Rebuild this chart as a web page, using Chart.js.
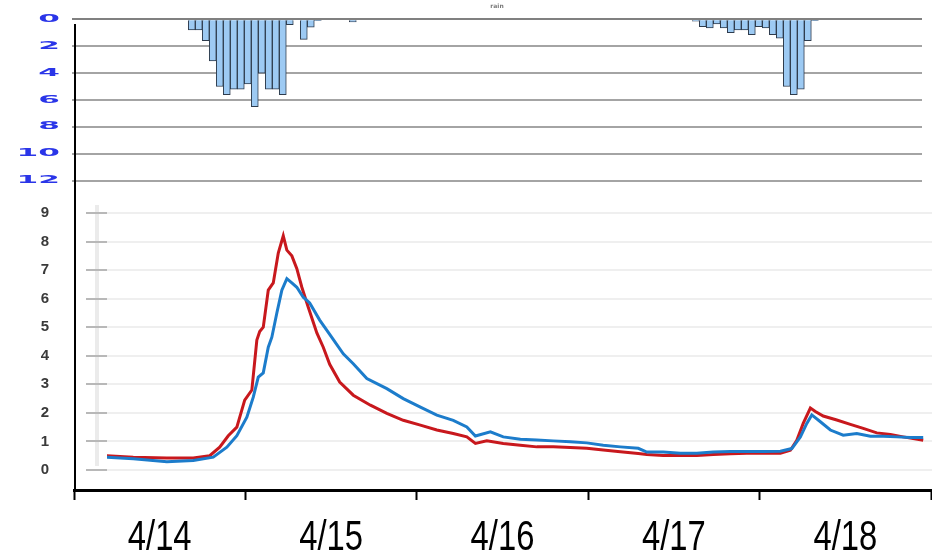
<!DOCTYPE html>
<html><head><meta charset="utf-8">
<script src="https://cdn.jsdelivr.net/npm/chart.js@4/dist/chart.umd.min.js"></script>
<style>
html,body{margin:0;padding:0;background:#fff;}
#wrap{position:relative;width:932px;height:556px;overflow:hidden;}
#wrap canvas{position:absolute;left:0;top:0;}
</style></head><body>
<div id="wrap">
<canvas id="rain" width="932" height="200"></canvas>
<canvas id="flow" width="932" height="556"></canvas>
<canvas id="frame" width="932" height="556"></canvas>
</div>
<script>
// ---- data ----
const dateLabels = ["4/14","4/15","4/16","4/17","4/18"];
const rainTicks = [0,2,4,6,8,10,12];
const flowTicks = [0,1,2,3,4,5,6,7,8,9];

const rainHours = [16,17,18,19,20,21,22,23,24,25,26,27,28,29,30,32,33,34,39,88,89,90,91,92,93,94,95,96,97,98,99,100,101,102,103,104,105];
const rainValues = [0.8,0.8,1.6,3.1,5.0,5.6,5.2,5.2,4.8,6.5,4.0,5.2,5.2,5.6,0.4,1.5,0.6,0.1,0.2,0.15,0.55,0.65,0.35,0.65,1.0,0.8,0.8,1.15,0.55,0.65,1.15,1.4,5.0,5.6,5.2,1.6,0.1];

const redHours = [4.6,8.3,13.0,16.7,19.0,20.4,21.6,22.8,23.9,24.9,25.6,26.0,26.5,27.2,27.9,28.6,29.3,29.8,30.5,31.2,31.9,32.8,34.0,34.9,35.8,37.2,39.1,41.5,43.8,46.1,48.5,50.8,53.1,55.0,56.2,57.8,60.1,62.5,64.8,67.1,69.5,71.8,74.1,76.5,79.0,80.2,82.5,84.9,87.2,89.5,91.9,94.2,96.5,98.9,100.3,101.2,102.1,103.1,103.8,104.9,106.8,108.7,110.5,112.4,114.3,116.1,117.5,118.9];
const redFlow = [0.50,0.45,0.42,0.42,0.50,0.80,1.20,1.50,2.45,2.80,4.55,4.85,5.00,6.30,6.55,7.60,8.20,7.70,7.50,7.05,6.40,5.70,4.80,4.30,3.70,3.08,2.62,2.27,1.98,1.74,1.57,1.40,1.28,1.16,0.93,1.02,0.93,0.87,0.81,0.81,0.79,0.76,0.70,0.64,0.58,0.54,0.51,0.51,0.51,0.54,0.57,0.59,0.59,0.59,0.69,1.04,1.63,2.17,2.05,1.89,1.75,1.60,1.46,1.30,1.24,1.16,1.10,1.04];

const blueHours = [4.6,8.3,13.0,16.7,19.5,21.4,22.8,24.2,25.1,25.8,26.5,27.2,27.7,28.4,29.1,29.8,30.5,31.2,32.1,33.0,34.4,35.8,37.7,39.1,41.0,43.8,46.1,48.5,50.8,53.1,55.0,56.2,58.3,60.1,62.5,64.8,67.1,69.5,71.8,74.1,76.5,79.0,80.2,82.5,84.9,87.2,89.5,91.9,94.2,96.5,98.9,100.5,101.7,102.6,103.3,104.5,105.9,107.7,109.6,111.5,113.3,115.2,117.1,118.9];
const blueFlow = [0.45,0.39,0.29,0.33,0.45,0.80,1.20,1.85,2.55,3.25,3.40,4.30,4.65,5.50,6.30,6.70,6.55,6.40,6.05,5.85,5.25,4.75,4.07,3.72,3.20,2.85,2.50,2.20,1.92,1.74,1.51,1.19,1.34,1.16,1.08,1.05,1.02,0.99,0.95,0.87,0.81,0.76,0.63,0.63,0.59,0.59,0.63,0.65,0.65,0.65,0.66,0.75,1.16,1.63,1.93,1.69,1.40,1.22,1.28,1.18,1.18,1.16,1.14,1.14];

// ---- helpers ----
const pts = (xs, ys) => xs.map((x, i) => ({x: x, y: ys[i]}));

// stretch the rain axis labels (wide, flat glyphs as in the original)
const wideLabels = {
  id: 'wideLabels',
  beforeDraw(chart) {
    const s = chart.scales.y;
    if (s._wideDone) return;
    s._wideDone = true;
    s.drawLabels = function (area) {
      const ctx = this.ctx;
      const items = this.getLabelItems(area);
      for (const it of items) {
        ctx.save();
        ctx.translate(it.options.translation[0], it.options.translation[1]);
        ctx.scale(2.6, 0.8);
        ctx.font = it.font.string;
        ctx.fillStyle = it.options.color;
        ctx.textAlign = 'right';
        ctx.textBaseline = 'middle';
        ctx.fillText(it.label, 0, 0);
        ctx.restore();
      }
    };
  }
};

// condensed date labels
const narrowLabels = {
  id: 'narrowLabels',
  beforeDraw(chart) {
    const s = chart.scales.x;
    const items = s.getLabelItems(chart.chartArea);
    const ctx = chart.ctx;
    ctx.save();
    for (const it of items) {
      ctx.font = it.font.string;
      it.options.maxWidth = ctx.measureText(it.label).width * 0.78;
    }
    ctx.restore();
  },
  afterDraw(chart) {
    const ctx = chart.ctx, a = chart.chartArea;
    ctx.save();
    ctx.strokeStyle = '#000';
    ctx.lineWidth = 2;
    ctx.beginPath();
    ctx.moveTo(a.left + 1, a.top);
    ctx.lineTo(a.left + 1, a.bottom);
    ctx.stroke();
    ctx.restore();
  }
};

const bandPlugin = {
  id: 'band',
  beforeDraw(chart) {
    const ctx = chart.ctx, a = chart.chartArea;
    ctx.save();
    ctx.fillStyle = '#ebebeb';
    ctx.fillRect(a.left - 12, a.top - 8, 4, a.bottom - a.top + 4);
    ctx.restore();
  }
};

// ---- rain chart ----
new Chart(document.getElementById('rain'), {
  type: 'bar',
  data: { datasets: [{
    data: rainHours.map((h, i) => ({x: h + 0.5, y: rainValues[i]})),
    backgroundColor: '#9dcaf3', borderColor: '#2e3b4c', borderWidth: 1,
    barPercentage: 1, categoryPercentage: 1
  }]},
  options: {
    responsive: false, animation: false, devicePixelRatio: 1,
    layout: { padding: { left: 0, right: 10, top: 0, bottom: 15 } },
    plugins: {
      legend: { display: false }, tooltip: { enabled: false },
      title: { display: true, text: 'rain', fullSize: false, color: '#777',
        font: { family: 'DejaVu Sans', size: 6 }, padding: { top: 2, bottom: 9.3 } }
    },
    scales: {
      x: { type: 'linear', offset: false, min: -0.61, max: 120.81, display: false },
      y: { reverse: true, min: 0, max: 12,
        afterBuildTicks: s => { s.ticks = rainTicks.map(v => ({value: v})); },
        ticks: { color: '#2a35e8', font: { family: 'DejaVu Sans', size: 12, weight: 'bold' }, padding: 12 },
        grid: { color: ctx => ctx.tick && ctx.tick.value === 0 ? '#808080' : '#a4a4a4', lineWidth: 2, drawTicks: false },
        border: { display: false },
        afterFit: s => { s.width = 72; } }
    }
  },
  plugins: [wideLabels]
});

// ---- flow chart ----
new Chart(document.getElementById('flow'), {
  type: 'line',
  data: { datasets: [
    { label: 'blue', data: pts(blueHours, blueFlow), borderColor: '#1c7ccb', borderWidth: 3, pointRadius: 0, tension: 0 },
    { label: 'red', data: pts(redHours, redFlow), borderColor: '#c8181d', borderWidth: 3, pointRadius: 0, tension: 0 }
  ]},
  options: {
    responsive: false, animation: false, devicePixelRatio: 1,
    layout: { padding: { left: 0, right: 0, top: 213, bottom: 86 } },
    plugins: { legend: { display: false }, tooltip: { enabled: false } },
    scales: {
      x: { type: 'linear', min: 4.62, max: 120.13, display: false },
      y: { min: 0, max: 9,
        afterBuildTicks: s => { s.ticks = flowTicks.map(v => ({value: v})); },
        ticks: { color: '#3a3a3a', font: { family: 'Liberation Sans', size: 15, weight: 'bold' }, padding: 37 },
        grid: { color: '#efefef', lineWidth: 2, tickLength: 21, tickColor: '#b8b8b8' },
        border: { display: false },
        afterFit: s => { s.width = 107; } }
    }
  },
  plugins: [bandPlugin]
});

// ---- frame + date axis ----
new Chart(document.getElementById('frame'), {
  type: 'line',
  data: { labels: dateLabels, datasets: [] },
  options: {
    responsive: false, animation: false, devicePixelRatio: 1,
    layout: { padding: { left: 74, right: 1, top: 24, bottom: 0 } },
    plugins: { legend: { display: false }, tooltip: { enabled: false } },
    scales: {
      x: { type: 'category', offset: true,
        grid: { offset: true, drawOnChartArea: false, tickLength: 10, tickColor: '#000', tickWidth: 2 },
        border: { color: '#000', width: 3 },
        ticks: { color: '#000', padding: 13, maxRotation: 0, autoSkip: false,
          font: { family: "'Liberation Sans', Arial, sans-serif", size: 42 } },
        afterFit: s => { s.height = 66; } },
      y: { display: false,
        afterFit: s => { s.width = 0; } }
    }
  },
  plugins: [narrowLabels]
});
</script>
</body></html>
